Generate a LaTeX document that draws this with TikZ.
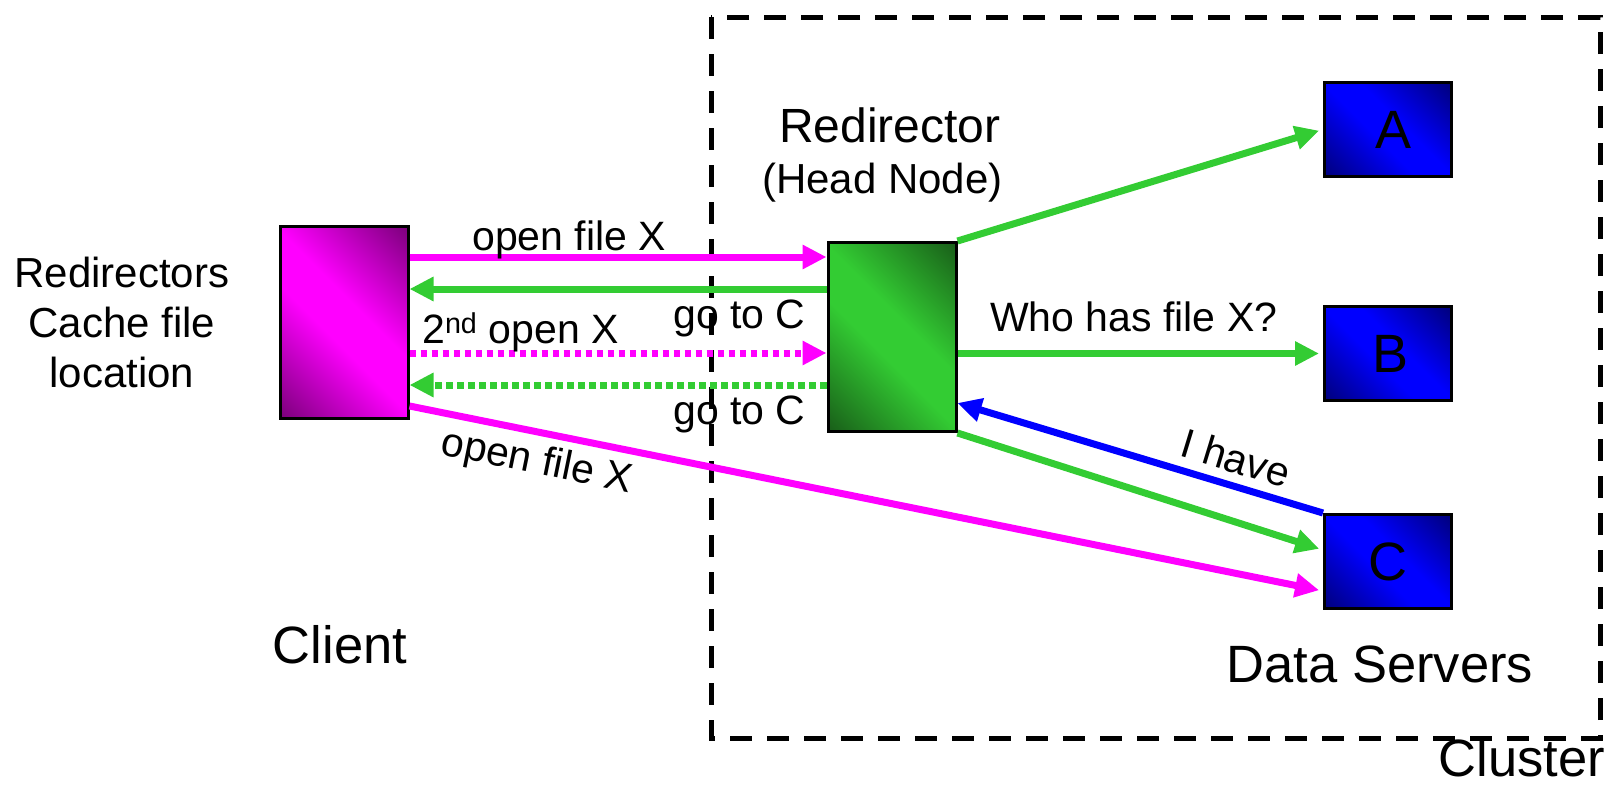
\documentclass[tikz,border=0pt]{standalone}
\usepackage{fontspec}
\setmainfont{Liberation Sans}
\usetikzlibrary{arrows.meta}

\definecolor{mag}{RGB}{255,0,255}
\definecolor{magdark}{RGB}{125,0,125}
\definecolor{grn}{RGB}{51,204,51}
\definecolor{grndark}{RGB}{25,95,25}
\definecolor{blu}{RGB}{0,0,255}
\definecolor{bludark}{RGB}{0,0,125}

% diagonal gradients: dark at two opposite corners, bright band in between
\pgfdeclareverticalshading{magshade}{100bp}{color(0bp)=(magdark); color(15bp)=(magdark);
  color(44bp)=(mag); color(56bp)=(mag); color(85bp)=(magdark); color(100bp)=(magdark)}
\pgfdeclareverticalshading{grnshade}{100bp}{color(0bp)=(grndark); color(15bp)=(grndark);
  color(44bp)=(grn); color(56bp)=(grn); color(85bp)=(grndark); color(100bp)=(grndark)}
\pgfdeclareverticalshading{blushade}{100bp}{color(0bp)=(bludark); color(15bp)=(bludark);
  color(44bp)=(blu); color(56bp)=(blu); color(85bp)=(bludark); color(100bp)=(bludark)}

\begin{document}
\begin{tikzpicture}[x=1pt,y=-1pt,
  box/.style={draw=black, line width=3pt, inner sep=0pt,
    font=\fontsize{54}{60}\selectfont},
  clientbox/.style={box, shade, shading=magshade, shading angle=-45},
  headbox/.style={box, shade, shading=grnshade, shading angle=-45},
  serverbox/.style={box, shade, shading=blushade, shading angle=-45,
    minimum width=127pt, minimum height=94pt},
  arr/.style={line width=7pt, -{Triangle[length=24pt,width=23pt]}},
  dotarr/.style={arr, dash pattern=on 6.5pt off 4.5pt},
  lbl/.style={inner sep=0pt, font=\fontsize{41}{49}\selectfont},
  mid/.style={inner sep=0pt, font=\fontsize{42}{50}\selectfont},
  big/.style={inner sep=0pt, font=\fontsize{52.5}{60}\selectfont},
  cluster/.style={draw=black, line width=5pt, dash pattern=on 22pt off 15pt}
]
\useasboundingbox (0,0) rectangle (1609,795);

% cluster outline
\draw[cluster] (711,17) rectangle (1600,738);

% boxes
\node[clientbox, minimum width=128pt, minimum height=192pt] (client) at (344,322) {};
\node[headbox, minimum width=128pt, minimum height=189pt] (redir) at (892,337) {};
\node[serverbox] (A) at (1388,129.5) {\hspace{10pt}A};
\node[serverbox] (B) at (1388,353.5) {\hspace{4pt}B};
\node[serverbox] (C) at (1388,561.5) {C};

% client <-> redirector exchanges
\draw[arr, mag] (client.east |- 0,257) -- (redir.west |- 0,257);
\draw[arr, grn] (redir.west |- 0,289) -- (client.east |- 0,289);
\draw[dotarr, mag] (client.east |- 0,353) -- (redir.west |- 0,353);
\draw[dotarr, grn] (redir.west |- 0,385) -- (client.east |- 0,385);

% redirector queries the data servers
\draw[arr, grn, shorten >=4pt] (redir.north east) -- (A.west);
\draw[arr, grn, shorten >=4pt] (redir.east |- B.west) -- (B.west);
\draw[arr, grn, shorten >=4pt] (redir.south east) -- (C.west |- 0,550);
\draw[arr, blu] (C.north west) -- (redir.east |- 0,403);

% direct open on server C
\draw[arr, mag, shorten >=4pt] (client.east |- 0,406) -- (C.west |- 0,591);

% labels
\node[lbl, anchor=base west] (t1) at (472,250) {open file X};
\node[lbl, anchor=base west] (t2) at (673,328) {go to C};
\node[lbl, anchor=base west] (t3) at (422,343) {2\textsuperscript{nd} open X};
\node[lbl, anchor=base west] (t4) at (673,424) {go to C};
\node[lbl, anchor=base west] (t5) at (990,331) {Who has file X?};
\node[lbl, rotate=-11.5] (t6) at (537,463) {open file X};
\node[lbl, rotate=-17] (t7) at (1236,458) {I have};

\node[inner sep=0pt, font=\fontsize{48}{56}\selectfont, anchor=base west] (rdname) at (779,142) {Redirector};
\node[mid, anchor=base west] (rdsub) at (762,193) {(Head Node)};

\node[mid, anchor=base] (side1) at (122,287) {Redirectors};
\node[mid, anchor=base] (side2) at (122,337) {Cache file};
\node[mid, anchor=base] (side3) at (122,387) {location};

\node[big, anchor=base] (clientname) at (340,663) {Client};
\node[big, anchor=base] (servers) at (1380,682) {Data Servers};
\node[big, anchor=base east] (clustername) at (1605,776) {Cluster};
\end{tikzpicture}
\end{document}
